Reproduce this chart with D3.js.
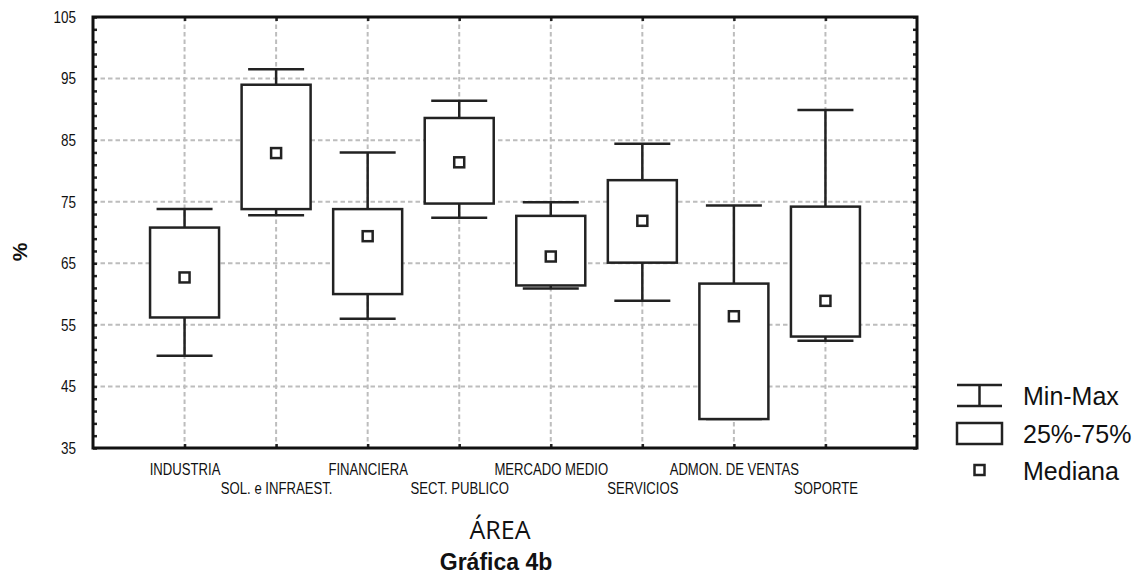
<!DOCTYPE html>
<html>
<head>
<meta charset="utf-8">
<script src="https://cdn.jsdelivr.net/npm/d3@7"></script>
<style>
html,body{margin:0;padding:0;background:#fff;}
svg{display:block;}
</style>
</head>
<body>
<svg id="chart" width="1145" height="576"></svg>
<script>
const categories = ["INDUSTRIA","SOL. e INFRAEST.","FINANCIERA","SECT. PUBLICO","MERCADO MEDIO","SERVICIOS","ADMON. DE VENTAS","SOPORTE"];
const minVals    = [50.0, 72.8, 56.0, 72.4, 60.9, 58.9, 39.7, 52.4];
const q1Vals     = [56.2, 73.8, 60.0, 74.7, 61.4, 65.1, 39.7, 53.1];
const medianVals = [62.7, 82.9, 69.4, 81.4, 66.1, 71.9, 56.4, 58.9];
const q3Vals     = [70.8, 94.0, 73.8, 88.6, 72.7, 78.5, 61.7, 74.2];
const maxVals    = [73.8, 96.5, 83.0, 91.4, 74.9, 84.4, 74.4, 89.9];
const yTicks = [35,45,55,65,75,85,95,105];
const legendLabels = ["Min-Max","25%-75%","Mediana"];
const xTitle = "ÁREA";
const yTitle = "%";
const caption = "Gráfica 4b";

const data = categories.map((c,i)=>({cat:c,i:i,min:minVals[i],q1:q1Vals[i],med:medianVals[i],q3:q3Vals[i],max:maxVals[i]}));

const svg = d3.select("#chart");
const L=93, R=917, T=17, B=448;
const x = d3.scaleLinear().domain([0, categories.length+1]).range([L,R]);
const y = d3.scaleLinear().domain([35,105]).range([B,T]);
const ink = "#222";
const narrow = 0.82;

// grid
const grid = svg.append("g");
grid.selectAll("line.h").data(yTicks.filter(v=>v>35 && v<105)).join("line")
  .attr("x1",L).attr("x2",R).attr("y1",d=>y(d)).attr("y2",d=>y(d))
  .attr("stroke","#bdbdbd").attr("stroke-width",2).attr("stroke-dasharray","4.5,3");
grid.selectAll("line.v").data(data).join("line")
  .attr("x1",d=>x(d.i+1)).attr("x2",d=>x(d.i+1)).attr("y1",T).attr("y2",B)
  .attr("stroke","#bdbdbd").attr("stroke-width",2).attr("stroke-dasharray","4.5,3");

// minor ticks values
const minor = d3.range(35,105.01,2).filter(v=>!yTicks.includes(v));

// left axis
const axL = svg.append("g").attr("transform",`translate(${L},0)`)
  .call(d3.axisLeft(y).tickValues(yTicks).tickSize(-4).tickPadding(17).tickFormat(d3.format("d")));
axL.select(".domain").remove();
axL.selectAll("line").attr("stroke",ink).attr("stroke-width",2.5);
axL.selectAll("text").attr("font-family","'Liberation Sans', Arial, sans-serif").attr("font-size",16.5).attr("fill","#111")
  .attr("transform",`scale(${narrow},1)`).attr("x",-17/narrow);
const axLm = svg.append("g").attr("transform",`translate(${L},0)`)
  .call(d3.axisLeft(y).tickValues(minor).tickSize(-4).tickFormat(""));
axLm.select(".domain").remove();
axLm.selectAll("line").attr("stroke",ink).attr("stroke-width",2.5);

// right axis (ticks only)
const axR = svg.append("g").attr("transform",`translate(${R},0)`)
  .call(d3.axisRight(y).tickValues(yTicks.concat(minor)).tickSize(-4).tickFormat(""));
axR.select(".domain").remove();
axR.selectAll("line").attr("stroke",ink).attr("stroke-width",2.5);

// top axis ticks
const axT = svg.append("g").attr("transform",`translate(0,${T})`)
  .call(d3.axisTop(x).tickValues(data.map(d=>d.i+1)).tickSize(-4).tickFormat(""));
axT.select(".domain").remove();
axT.selectAll("line").attr("stroke",ink).attr("stroke-width",2.5);

// bottom axis
const axB = svg.append("g").attr("transform",`translate(0,${B})`)
  .call(d3.axisBottom(x).tickValues(data.map(d=>d.i+1)).tickSize(-4).tickFormat(v=>categories[v-1]));
axB.select(".domain").remove();
axB.selectAll("line").attr("stroke",ink).attr("stroke-width",2.5);
axB.selectAll("text")
  .attr("font-family","'Liberation Sans', Arial, sans-serif").attr("font-size",16).attr("fill","#111")
  .attr("dy",null)
  .attr("transform",`scale(${narrow},1)`)
  .attr("y",(v)=> ((v-1)%2===0 ? 27 : 46));

// frame
svg.append("rect").attr("x",L).attr("y",T).attr("width",R-L).attr("height",B-T)
  .attr("fill","none").attr("stroke","#111").attr("stroke-width",3);

// boxes
const boxW = 69, capW = 56, medS = 10;
const g = svg.append("g").attr("stroke",ink).attr("stroke-width",2.5).attr("fill","none");
const bx = g.selectAll("g.box").data(data).join("g");
bx.append("line").attr("x1",d=>x(d.i+1)).attr("x2",d=>x(d.i+1)).attr("y1",d=>y(d.q3)).attr("y2",d=>y(d.max));
bx.append("line").attr("x1",d=>x(d.i+1)).attr("x2",d=>x(d.i+1)).attr("y1",d=>y(d.q1)).attr("y2",d=>y(d.min));
bx.append("line").attr("x1",d=>x(d.i+1)-capW/2).attr("x2",d=>x(d.i+1)+capW/2).attr("y1",d=>y(d.max)).attr("y2",d=>y(d.max));
bx.append("line").attr("x1",d=>x(d.i+1)-capW/2).attr("x2",d=>x(d.i+1)+capW/2).attr("y1",d=>y(d.min)).attr("y2",d=>y(d.min));
bx.append("rect").attr("x",d=>x(d.i+1)-boxW/2).attr("width",boxW)
  .attr("y",d=>y(d.q3)).attr("height",d=>y(d.q1)-y(d.q3)).attr("fill","#fff");
bx.append("rect").attr("x",d=>x(d.i+1)-medS/2).attr("y",d=>y(d.med)-medS/2)
  .attr("width",medS).attr("height",medS).attr("fill","#fff");

// axis titles
svg.append("text").attr("x",500).attr("y",539).attr("text-anchor","middle")
  .attr("font-family","'Open Sans','Noto Sans',sans-serif").attr("font-size",25).attr("fill","#111").text(xTitle);
svg.append("text").attr("x",496).attr("y",570).attr("text-anchor","middle")
  .attr("font-family","'Liberation Sans', Arial, sans-serif").attr("font-weight","bold").attr("font-size",23).attr("fill","#111").text(caption);
svg.append("text").attr("transform","translate(27,252) rotate(-90)").attr("text-anchor","middle")
  .attr("font-family","'Liberation Sans', Arial, sans-serif").attr("font-weight","bold").attr("font-size",21).attr("fill","#111").text(yTitle);

// legend
const lg = svg.append("g");
const lx = 957, lw = 45, tx = 1023;
lg.append("line").attr("x1",lx).attr("x2",lx+lw).attr("y1",385).attr("y2",385).attr("stroke",ink).attr("stroke-width",2.5);
lg.append("line").attr("x1",lx).attr("x2",lx+lw).attr("y1",406).attr("y2",406).attr("stroke",ink).attr("stroke-width",2.5);
lg.append("line").attr("x1",lx+lw/2).attr("x2",lx+lw/2).attr("y1",385).attr("y2",406).attr("stroke",ink).attr("stroke-width",2.5);
lg.append("rect").attr("x",lx).attr("y",423).attr("width",lw).attr("height",21).attr("fill","#fff").attr("stroke",ink).attr("stroke-width",2.5);
lg.append("rect").attr("x",lx+lw/2-medS/2).attr("y",470-medS/2).attr("width",medS).attr("height",medS).attr("fill","#fff").attr("stroke",ink).attr("stroke-width",2.5);
const lys = [405, 443, 480];
lg.selectAll("text").data(legendLabels).join("text")
  .attr("x",tx).attr("y",(d,i)=>lys[i])
  .attr("font-family","'Liberation Sans', Arial, sans-serif").attr("font-size",25).attr("fill","#111").text(d=>d);
</script>
</body>
</html>
